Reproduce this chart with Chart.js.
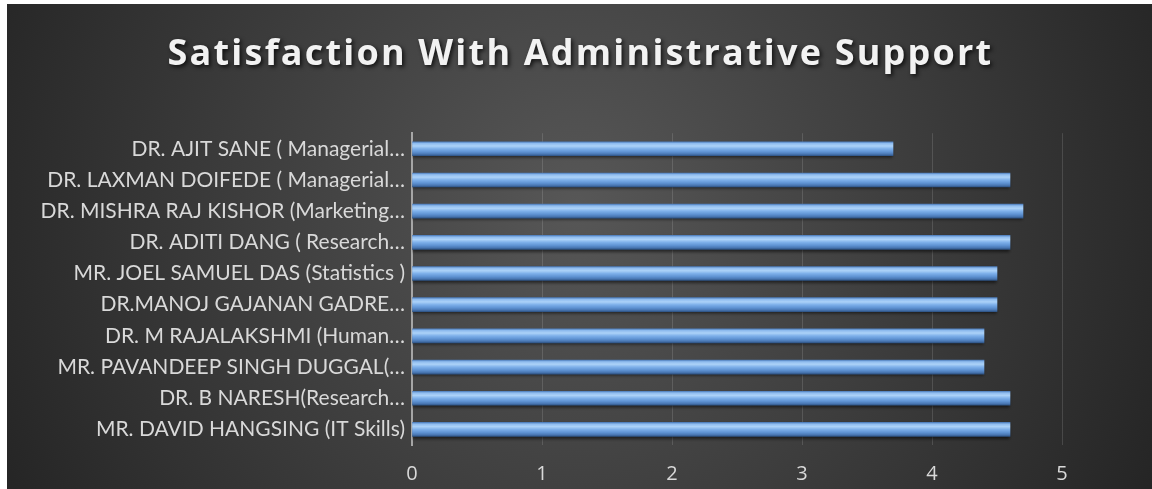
<!DOCTYPE html>
<html>
<head>
<meta charset="utf-8">
<script src="https://cdn.jsdelivr.net/npm/chart.js@4.4.0/dist/chart.umd.min.js"></script>
<style>
  html, body { margin: 0; padding: 0; background: #ffffff; }
  #wrap { position: absolute; left: 7px; top: 4px; width: 1145px; height: 485px; }
</style>
</head>
<body>
<div id="wrap"><canvas id="chart"></canvas></div>
<script>
const names = [
  "DR. AJIT SANE ( Managerial\u2026",
  "DR. LAXMAN DOIFEDE ( Managerial\u2026",
  "DR. MISHRA RAJ KISHOR (Marketing\u2026",
  "DR. ADITI DANG ( Research\u2026",
  "MR. JOEL SAMUEL DAS (Statistics )",
  "DR.MANOJ GAJANAN GADRE\u2026",
  "DR. M RAJALAKSHMI (Human\u2026",
  "MR. PAVANDEEP SINGH DUGGAL(\u2026",
  "DR. B NARESH(Research\u2026",
  "MR. DAVID HANGSING (IT Skills)"
];
const scores = [3.7, 4.6, 4.7, 4.6, 4.5, 4.5, 4.4, 4.4, 4.6, 4.6];
const xTicks = [0, 1, 2, 3, 4, 5];

const BAR_H = 14;

// vertical gradient for each bar, like the bevelled office bars
function barFill(context) {
  const chart = context.chart;
  const y = chart.scales.y;
  if (!y || context.dataIndex === undefined) return "#7aaee8";
  const c = y.getPixelForValue(context.dataIndex);
  if (!isFinite(c)) return "#7aaee8";
  const g = chart.ctx.createLinearGradient(0, c - BAR_H / 2, 0, c + BAR_H / 2);
  g.addColorStop(0, "#4f7fbd");
  g.addColorStop(0.12, "#8fbcef");
  g.addColorStop(0.3, "#acd2f8");
  g.addColorStop(0.5, "#7eb0ea");
  g.addColorStop(0.72, "#5f93d3");
  g.addColorStop(0.88, "#4a78b4");
  g.addColorStop(1, "#2f5587");
  return g;
}

const bgPlugin = {
  id: "bg",
  afterInit(chart) {
    const t = chart.titleBlock;
    if (!t) return;
    const orig = t.draw.bind(t);
    t.draw = function () {
      const c = chart.ctx;
      c.save();
      c.translate(46, 0);
      c.shadowColor = "rgba(0,0,0,0.75)";
      c.shadowBlur = 4;
      c.shadowOffsetX = 2;
      c.shadowOffsetY = 2;
      c.letterSpacing = "2.2px";
      orig();
      c.restore();
    };
  },
  beforeDraw(chart) {
    const c = chart.ctx;
    const w = chart.width, h = chart.height;
    const g = c.createRadialGradient(570, 200, 0, 570, 200, 640);
    g.addColorStop(0, "#575757");
    g.addColorStop(1, "#252525");
    c.save();
    c.fillStyle = g;
    c.fillRect(0, 0, w, h);
    c.restore();
  },
  beforeDatasetsDraw(chart) {
    const c = chart.ctx;
    c.save();
    c.shadowColor = "rgba(0,0,0,0.55)";
    c.shadowBlur = 3;
    c.shadowOffsetY = 2;
  },
  afterDatasetsDraw(chart) {
    chart.ctx.restore();
  }
};

const ctx = document.getElementById("chart").getContext("2d");
const myChart = new Chart(ctx, {
  type: "bar",
  data: {
    labels: names,
    datasets: [{
      label: "Satisfaction",
      data: scores,
      backgroundColor: barFill,
      borderWidth: 0,
      barThickness: BAR_H
    }]
  },
  plugins: [bgPlugin],
  options: {
    indexAxis: "y",
    responsive: true,
    maintainAspectRatio: false,
    animation: false,
    layout: { padding: { left: 0, right: 90, top: 0, bottom: 0 } },
    plugins: {
      legend: { display: false },
      tooltip: { enabled: false },
      title: {
        display: true,
        text: "Satisfaction With Administrative Support",
        color: "#f2f2f2",
        font: { family: "'Open Sans', sans-serif", size: 36, weight: "bold" },
        padding: { top: 29, bottom: 57 }
      }
    },
    scales: {
      x: {
        min: 0,
        max: 5,
        afterBuildTicks(scale) {
          scale.ticks = xTicks.map(v => ({ value: v }));
        },
        afterFit(scale) { scale.height = 44; },
        grid: { color: "rgba(255,255,255,0.13)", lineWidth: 1, drawTicks: false },
        border: { display: false },
        ticks: {
          color: "#d9d9d9",
          padding: 17,
          font: { family: "'Open Sans', sans-serif", size: 20 }
        }
      },
      y: {
        afterFit(scale) { scale.width = 405; },
        grid: { display: false, drawTicks: false },
        border: { display: true, color: "#a6a6a6", width: 2 },
        ticks: {
          color: "#d9d9d9",
          padding: 7,
          autoSkip: false,
          font: { family: "Lato, sans-serif", size: 21 }
        }
      }
    }
  }
});
</script>
</body>
</html>
